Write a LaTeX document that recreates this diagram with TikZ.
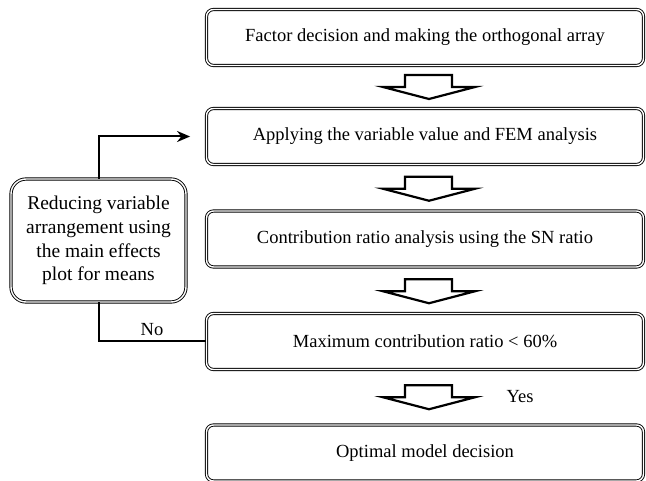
\documentclass[tikz,border=0pt]{standalone}
\usepackage{fontspec}
\setmainfont{Liberation Serif}
\usetikzlibrary{calc,arrows.meta}
\begin{document}
\begin{tikzpicture}[x=1pt,y=-1pt,
  mainbox/.style={draw=black, line width=0.9pt, double=white, double distance=1.4pt,
    rounded corners=7pt, minimum width=437pt, minimum height=56pt, inner sep=0pt,
    font=\fontsize{18.5}{22}\selectfont},
  sidebox/.style={draw=black, line width=0.9pt, double=white, double distance=1.4pt,
    rounded corners=15pt, minimum width=175pt, minimum height=123pt, inner sep=0pt,
    align=center, font=\fontsize{19.5}{23.7}\selectfont},
  conn/.style={line width=2pt},
  lbl/.style={font=\fontsize{18.5}{22}\selectfont, inner sep=0pt},
  blockarr/.pic={\draw[line width=2.2pt, line join=miter, miter limit=20]
     (-46,0) -- (-24,0) -- (-24,-12) -- (23,-12) -- (23,0) -- (46,0) -- (0,12) -- cycle;}
]
\useasboundingbox (0,0) rectangle (646,481);
\node[mainbox] (b1) at (425,37.5) {Factor decision and making the orthogonal array};
\node[mainbox] (b2) at (425,136.5) {Applying the variable value and FEM analysis};
\node[mainbox] (b3) at (425,239) {Contribution ratio analysis using the SN ratio};
\node[mainbox] (b4) at (425,341.5) {Maximum contribution ratio < 60\%};
\node[mainbox] (b5) at (425,453) {Optimal model decision};
\node[sidebox] (lb) at (98.5,240.5) {Reducing variable\\arrangement using\\the main effects\\plot for means};

\coordinate (m1) at ($(b1.south)!.5!(b2.north)+(4,0)$);
\coordinate (m2) at ($(b2.south)!.5!(b3.north)+(4,1)$);
\coordinate (m3) at ($(b3.south)!.5!(b4.north)+(4,1)$);
\coordinate (m4) at ($(b4.south)!.5!(b5.north)+(4,0)$);
\pic at (m1) {blockarr};
\pic at (m2) {blockarr};
\pic at (m3) {blockarr};
\pic at (m4) {blockarr};

\draw[conn, -{Stealth[length=13pt,width=11pt]}, shorten >=16pt] (lb.north) |- (b2.west);
\draw[conn] (lb.south) |- (b4.west);
\node[lbl] (no) at (152,330) {No};
\node[lbl] (yes) at (520,397) {Yes};
\end{tikzpicture}
\end{document}
